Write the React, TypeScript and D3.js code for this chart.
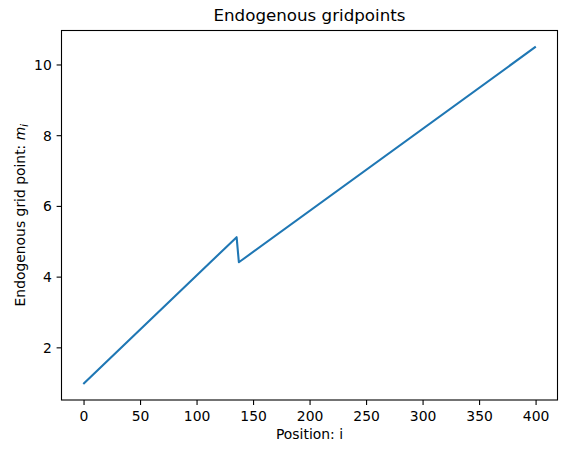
// @ts-nocheck
import React, { useEffect, useRef } from 'react';
import * as d3 from 'd3';

// knots of the endogenous grid (position i -> m_i), straight segments between them
const positions = [0, 135, 137, 399];
const gridValues = [1.0, 5.13, 4.42, 10.5];
const xTicks = [0, 50, 100, 150, 200, 250, 300, 350, 400];
const yTicks = [2, 4, 6, 8, 10];

const width = 567, height = 453;
const margin = { left: 61.5, right: 9.5, top: 30.5, bottom: 53 };
const font = '"DejaVu Sans", sans-serif';

export default function App() {
    const ref = useRef(null);

    useEffect(() => {
        d3.select(ref.current).selectAll("*").remove();

        const svg = d3.select(ref.current);
        const x0 = margin.left, x1 = width - margin.right;
        const y0 = height - margin.bottom, y1 = margin.top;

        // matplotlib style 5% padding
        const xPad = (d3.max(positions) - d3.min(positions)) * 0.05;
        const yPad = (d3.max(gridValues) - d3.min(gridValues)) * 0.05;
        const x = d3.scaleLinear()
            .domain([d3.min(positions) - xPad, d3.max(positions) + xPad])
            .range([x0, x1]);
        const y = d3.scaleLinear()
            .domain([d3.min(gridValues) - yPad, d3.max(gridValues) + yPad])
            .range([y0, y1]);

        const data = positions.map((p, i) => [p, gridValues[i]]);

        /* Line */
        svg.append("path")
            .datum(data)
            .attr("fill", "none")
            .attr("stroke", "#1f77b4")
            .attr("stroke-width", 2.08)
            .attr("stroke-linejoin", "round")
            .attr("stroke-linecap", "square")
            .attr("d", d3.line().x(d => x(d[0])).y(d => y(d[1])));

        /* Frame */
        svg.append("rect")
            .attr("x", x0).attr("y", y1)
            .attr("width", x1 - x0).attr("height", y0 - y1)
            .attr("fill", "none")
            .attr("stroke", "#000")
            .attr("stroke-width", 1.1);

        /* X ticks */
        const gx = svg.append("g");
        gx.selectAll("line").data(xTicks).join("line")
            .attr("x1", d => x(d)).attr("x2", d => x(d))
            .attr("y1", y0).attr("y2", y0 + 4.9)
            .attr("stroke", "#000").attr("stroke-width", 1.1);
        gx.selectAll("text").data(xTicks).join("text")
            .attr("x", d => x(d)).attr("y", 421)
            .attr("text-anchor", "middle")
            .style("font", `13.9px ${font}`)
            .text(d => d);

        /* Y ticks */
        const gy = svg.append("g");
        gy.selectAll("line").data(yTicks).join("line")
            .attr("y1", d => y(d)).attr("y2", d => y(d))
            .attr("x1", x0).attr("x2", x0 - 4.9)
            .attr("stroke", "#000").attr("stroke-width", 1.1);
        gy.selectAll("text").data(yTicks).join("text")
            .attr("x", x0 - 9.7).attr("y", d => y(d))
            .attr("dy", "0.36em")
            .attr("text-anchor", "end")
            .style("font", `13.9px ${font}`)
            .text(d => d);

        /* Labels */
        svg.append("text")
            .attr("x", (x0 + x1) / 2).attr("y", 21)
            .attr("text-anchor", "middle")
            .style("font", `16.7px ${font}`)
            .text("Endogenous gridpoints");

        svg.append("text")
            .attr("x", (x0 + x1) / 2).attr("y", 439)
            .attr("text-anchor", "middle")
            .style("font", `13.9px ${font}`)
            .text("Position: i");

        const yl = svg.append("text")
            .attr("transform", `translate(24.5,${(y0 + y1) / 2}) rotate(-90)`)
            .attr("text-anchor", "middle")
            .style("font", `13.9px ${font}`);
        yl.append("tspan").text("Endogenous grid point: ");
        yl.append("tspan").attr("font-style", "italic").text("m");
        yl.append("tspan").attr("font-style", "italic")
            .attr("font-size", "9.7px").attr("dy", 3).text("i");
    }, []);

    return (
        <svg ref={ref} width={width} height={height}
            style={{ position: "absolute", left: 0, top: 0, background: "#fff" }} />
    );
}
